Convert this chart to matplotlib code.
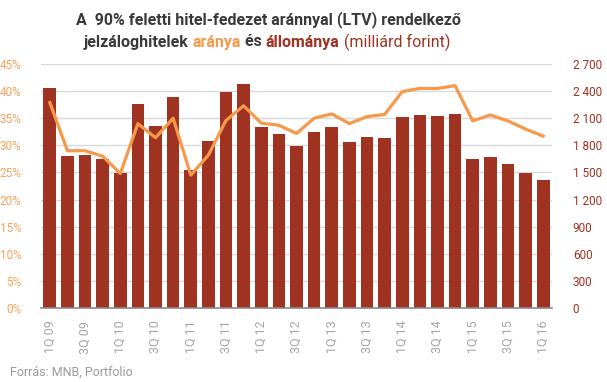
import matplotlib
matplotlib.use("Agg")
import matplotlib.pyplot as plt
from matplotlib.ticker import FuncFormatter

plt.rcParams['font.family'] = ['Roboto', 'DejaVu Sans']

# negyedevek 1Q09 - 1Q16
quarters = [f"{q}Q {y:02d}" for y in range(9, 17) for q in range(1, 5)][:29]
# arány (%) - bal tengely
ratio = [37.9, 29.0, 29.0, 28.0, 24.8, 34.0, 31.4, 35.0, 24.5, 28.2,
         34.6, 37.3, 34.1, 33.7, 32.2, 35.0, 35.8, 34.0, 35.3, 35.7,
         39.9, 40.5, 40.5, 41.0, 34.5, 35.6, 34.5, 33.0, 31.7]
# állomány (milliárd forint) - jobb tengely
stock = [2437, 1683, 1694, 1650, 1494, 2260, 2016, 2337, 1527, 1852,
         2393, 2481, 2004, 1927, 1794, 1949, 2004, 1838, 1893, 1882,
         2115, 2138, 2126, 2149, 1650, 1672, 1594, 1494, 1417]

BAR = '#A03222'
LINE = '#F7994A'
DARK = '#3A3A3A'
GRAY = '#9A9A9A'

W, H = 607, 382
fig = plt.figure(figsize=(W / 100, H / 100), dpi=100)
ax = fig.add_axes([41 / W, (H - 308) / H, 511 / W, 244 / H])
ax2 = ax.twinx()

x = list(range(len(quarters)))
ax2.bar(x, stock, width=0.72, color=BAR, zorder=2)
ax2.set_ylim(0, 2700)
ax2.set_yticks(range(0, 2701, 300))
ax2.yaxis.set_major_formatter(FuncFormatter(lambda v, p: f"{int(v):,}".replace(",", " ")))
ax2.grid(axis='y', color='#DADADA', linewidth=1)
ax2.set_axisbelow(True)

ax.set_zorder(ax2.get_zorder() + 1)
ax.patch.set_visible(False)
ax.plot(x, ratio, color=LINE, linewidth=2.3, solid_joinstyle='round')
ax.set_ylim(0, 45)
ax.set_yticks(range(0, 46, 5))
ax.yaxis.set_major_formatter(FuncFormatter(lambda v, p: f"{int(v)}%"))
ax.set_xlim(-0.5, len(x) - 0.5)
ax.set_xticks(x[::2])
ax.set_xticklabels(quarters[::2], rotation=90, color='#A5A5A5', fontsize=9)

for a in (ax, ax2):
    for s in a.spines.values():
        s.set_visible(False)
    a.tick_params(length=0)
ax.spines['bottom'].set_visible(True)
ax.spines['bottom'].set_color('#8A8A8A')
ax.spines['bottom'].set_linewidth(1.2)
ax.tick_params(axis='y', colors='#F8A25A', labelsize=8.5, pad=14)
ax.tick_params(axis='x', pad=9)
ax2.tick_params(axis='y', colors=BAR, labelsize=8.5, pad=15)

# cím, színes részekkel
renderer = fig.canvas.get_renderer()

def colored_line(parts, cx, cy, size):
    texts = []
    for s, c, w in parts:
        t = fig.text(0, cy / H, s, color=c, fontweight=w, fontsize=size, va='center')
        texts.append(t)
    widths = [t.get_window_extent(renderer).width for t in texts]
    xpos = cx - sum(widths) / 2
    for t, w in zip(texts, widths):
        t.set_x(xpos / W)
        xpos += w

colored_line([("A  90% feletti hitel-fedezet aránnyal (LTV) rendelkező", DARK, 'bold')],
             268, H - 20, 11.5)
colored_line([("jelzáloghitelek ", DARK, 'bold'), ("aránya", LINE, 'bold'),
              (" és ", DARK, 'bold'), ("állománya", BAR, 'bold'),
              (" (milliárd forint)", BAR, 'normal')], 267, H - 42, 11.5)

fig.text(10 / W, (H - 372) / H, "Forrás: MNB, Portfolio", color=GRAY, fontsize=9, va='center')

fig.savefig('out.png', dpi=100, facecolor='white')
